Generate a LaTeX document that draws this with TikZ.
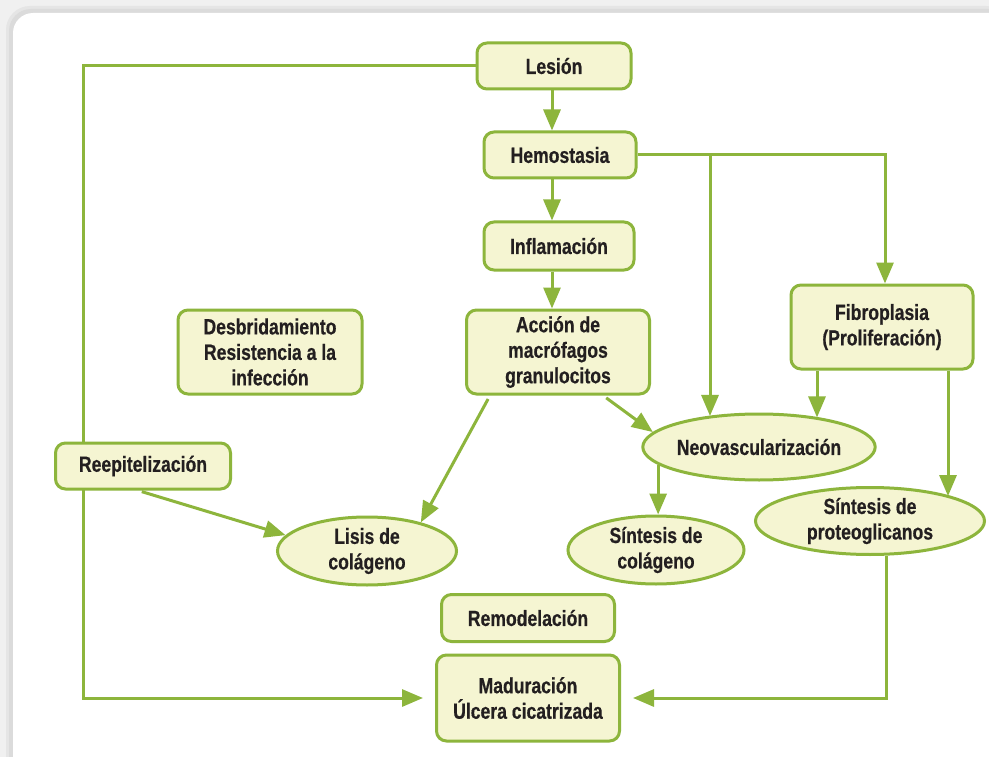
\documentclass[tikz,border=0pt]{standalone}
\usepackage{fontspec}
\setmainfont{Liberation Sans}[FakeStretch=0.8,FakeBold=0.5]
\usetikzlibrary{shapes.geometric,arrows.meta}
\definecolor{grn}{HTML}{8DB53C}
\definecolor{cream}{HTML}{F5F5D2}
\definecolor{ink}{HTML}{231F20}
\tikzset{
  txt/.style={font=\fontsize{22}{25.5}\selectfont\bfseries, text=ink, align=center, inner sep=0pt},
  rbox/.style={txt, draw=grn, line width=3pt, fill=cream, rounded corners=10pt},
  ebox/.style={txt, ellipse, draw=grn, line width=3pt, fill=cream},
  arr/.style={draw=grn, line width=3pt, -{Triangle[length=21pt,width=17pt]}},
  ln/.style={draw=grn, line width=3pt},
}
\begin{document}
\begin{tikzpicture}[x=1pt,y=-1pt]
\useasboundingbox (0,0) rectangle (989,757);
% background and panel
\fill[gray!12] (0,0) rectangle (989,757);
\fill[gray!20, rounded corners=24pt] (6,6) rectangle (1010,780);
\fill[gray!28, rounded corners=22pt] (9,9) rectangle (1010,780);
\fill[white, rounded corners=20pt] (13,13) rectangle (1010,780);

\coordinate (cl) at (83,66);

% nodes
\node[rbox, minimum width=154pt, minimum height=46pt] (lesion) at (554,66) {Lesión};
\node[rbox, minimum width=152pt, minimum height=46pt] (hemo) at (560,155) {Hemostasia};
\node[rbox, minimum width=150pt, minimum height=48pt] (infl) at (559,246) {Inflamación};
\node[rbox, minimum width=183pt, minimum height=84pt] (accion) at (558,352) {Acción de\\macrófagos\\granulocitos};
\node[rbox, minimum width=184pt, minimum height=84pt] (desb) at (270,352) {Desbridamiento\\Resistencia a la\\infección};
\node[rbox, minimum width=182pt, minimum height=84pt] (fibro) at (882,327) {Fibroplasia\\(Proliferación)};
\node[ebox, minimum width=228pt, minimum height=66pt] (neo) at (759,447) {Neovascularización};
\node[ebox, minimum width=176pt, minimum height=68pt] (sincol) at (656,550) {Síntesis de\\colágeno};
\node[ebox, minimum width=229pt, minimum height=67pt] (prot) at (870,521) {Síntesis de\\proteoglicanos};
\node[ebox, minimum width=179pt, minimum height=68pt] (lisis) at (367,551) {Lisis de\\colágeno};
\node[rbox, minimum width=173pt, minimum height=47pt] (remod) at (528,618) {Remodelación};
\node[rbox, minimum width=183pt, minimum height=86pt] (madur) at (528,698) {Maduración\\Úlcera cicatrizada};

% left loop
\draw[arr, shorten >=12pt] (lesion.west) -- (cl) |- (madur.west);
\node[rbox, minimum width=175pt, minimum height=46pt] (reep) at (143,466) {Reepitelización};

% vertical chain
\draw[arr] ([xshift=-2pt]lesion.south) -- ([xshift=-2pt]lesion.south |- hemo.north);
\draw[arr] ([xshift=-2pt]lesion.south |- hemo.south) -- ([xshift=-2pt]lesion.south |- infl.north);
\draw[arr] ([xshift=-2pt]lesion.south |- infl.south) -- ([xshift=-2pt]lesion.south |- accion.north);

% hemostasia branches
\coordinate (b1) at (710,155);
\draw[arr] (hemo.east) -| ([xshift=3pt]fibro.north);
\draw[arr] (b1) -- (b1 |- neo.149);

% fibroplasia outputs
\draw[arr] ([xshift=-65pt]fibro.south) -- ([xshift=-65pt]fibro.south |- neo.26);
\draw[arr] ([xshift=66pt]fibro.south) -- ([xshift=66pt]fibro.south |- prot.17);

% accion outputs
\draw[arr, shorten <=4pt] ([xshift=45pt]accion.south) -- (neo.172);
\draw[arr, shorten <=4pt] ([xshift=-68pt]accion.south) -- (lisis.28);

% reep -> lisis
\draw[arr, shorten <=4pt] ([xshift=-5pt]reep.south) -- (lisis.169);

% neo -> sintesis colageno
\draw[arr] (neo.190) -- (neo.190 |- sincol.north);

% prot -> maduracion
\draw[arr, shorten >=12pt] ([xshift=16pt]prot.south) |- (madur.east);
\end{tikzpicture}
\end{document}
